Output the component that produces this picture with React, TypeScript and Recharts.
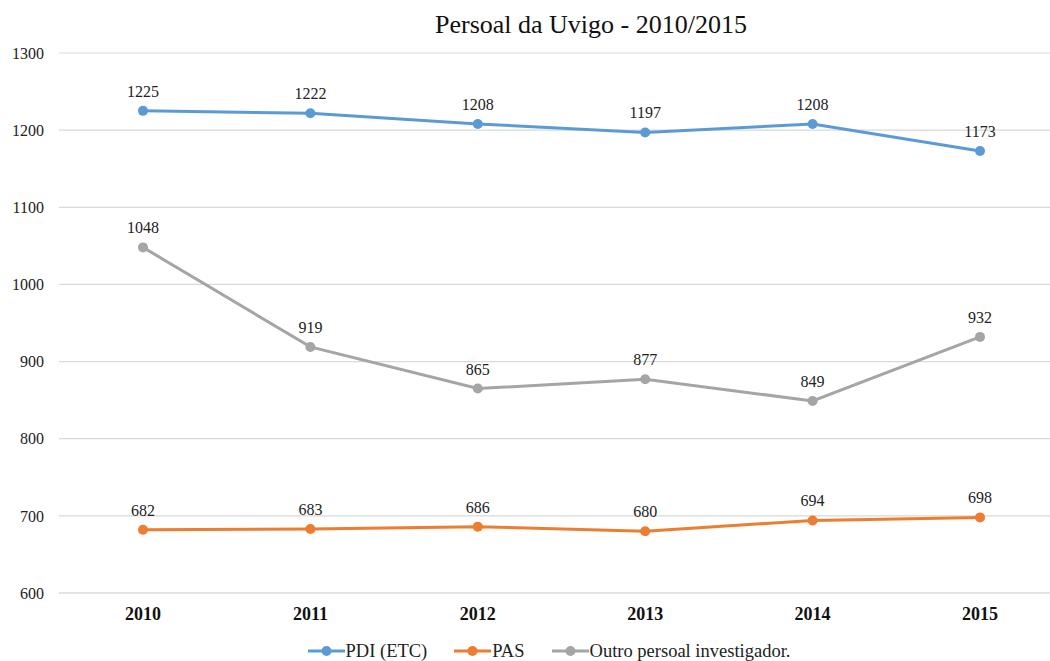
import React from "react";
import {
  LineChart,
  Line,
  XAxis,
  YAxis,
  CartesianGrid,
  Legend,
  LabelList,
} from "recharts";

const years = ["2010", "2011", "2012", "2013", "2014", "2015"];
const pdi = [1225, 1222, 1208, 1197, 1208, 1173];
const pas = [682, 683, 686, 680, 694, 698];
const outro = [1048, 919, 865, 877, 849, 932];
const yTicks = [600, 700, 800, 900, 1000, 1100, 1200, 1300];

const series = [
  { key: "pdi", name: "PDI (ETC)", color: "#5B9BD5" },
  { key: "pas", name: "PAS", color: "#ED7D31" },
  { key: "outro", name: "Outro persoal investigador.", color: "#A5A5A5" },
];

const data = years.map((year, i) => ({
  year,
  pdi: pdi[i],
  pas: pas[i],
  outro: outro[i],
}));

const FONT = "'Liberation Serif', 'DejaVu Serif', serif";

function LegendBox() {
  return (
    <div
      style={{
        width: 1050,
        display: "flex",
        justifyContent: "center",
        paddingLeft: 48,
        paddingTop: 10,
        boxSizing: "border-box",
        height: 30,
        alignItems: "center",
        fontFamily: FONT,
        fontSize: 18.5,
        color: "#222",
      }}
    >
      {series.map((s, i) => (
        <div
          key={s.key}
          style={{
            display: "flex",
            alignItems: "center",
            marginRight: i < series.length - 1 ? 27 : 0,
          }}
        >
          <svg width={37} height={12} style={{ marginRight: 1 }}>
            <line x1={0} y1={6} x2={37} y2={6} stroke={s.color} strokeWidth={3} />
            <circle cx={18.5} cy={6} r={5} fill={s.color} />
          </svg>
          <span>{s.name}</span>
        </div>
      ))}
    </div>
  );
}

export default function App() {
  return (
    <div
      style={{
        position: "absolute",
        left: 0,
        top: 0,
        width: 1050,
        height: 661,
        overflow: "hidden",
        background: "#fff",
        fontFamily: FONT,
      }}
    >
      <div
        style={{
          position: "absolute",
          left: 0,
          top: 10,
          width: 1182,
          textAlign: "center",
          fontSize: 26,
          color: "#111",
          fontFamily: FONT,
        }}
      >
        Persoal da Uvigo - 2010/2015
      </div>
      <LineChart
        width={1064}
        height={661}
        data={data}
        margin={{ top: 53, right: 0, left: 0, bottom: 0 }}
      >
        <CartesianGrid vertical={false} stroke="#D9D9D9" strokeWidth={1.2} />
        <XAxis
          dataKey="year"
          height={38}
          padding={{ left: 84, right: 84 }}
          tickLine={false}
          axisLine={{ stroke: "#D9D9D9", strokeWidth: 1.2 }}
          tickSize={12}
          tick={{ fontSize: 18, fontWeight: "bold", fill: "#111", fontFamily: FONT }}
        />
        <YAxis
          width={59}
          domain={[600, 1300]}
          ticks={yTicks}
          interval={0}
          axisLine={false}
          tickLine={false}
          tickSize={13}
          tick={{ fontSize: 16, fill: "#222", fontFamily: FONT }}
        />
        <Legend
          verticalAlign="bottom"
          height={30}
          content={() => <LegendBox />}
          wrapperStyle={{ left: 0, width: 1050 }}
        />
        {series.map((s) => (
          <Line
            key={s.key}
            dataKey={s.key}
            name={s.name}
            stroke={s.color}
            strokeWidth={3}
            dot={{ r: 5, fill: s.color, stroke: s.color, strokeWidth: 0 }}
            activeDot={false}
            isAnimationActive={false}
          >
            <LabelList
              dataKey={s.key}
              position="top"
              offset={14}
              style={{ fontSize: 16, fill: "#222", fontFamily: FONT }}
            />
          </Line>
        ))}
      </LineChart>
    </div>
  );
}
